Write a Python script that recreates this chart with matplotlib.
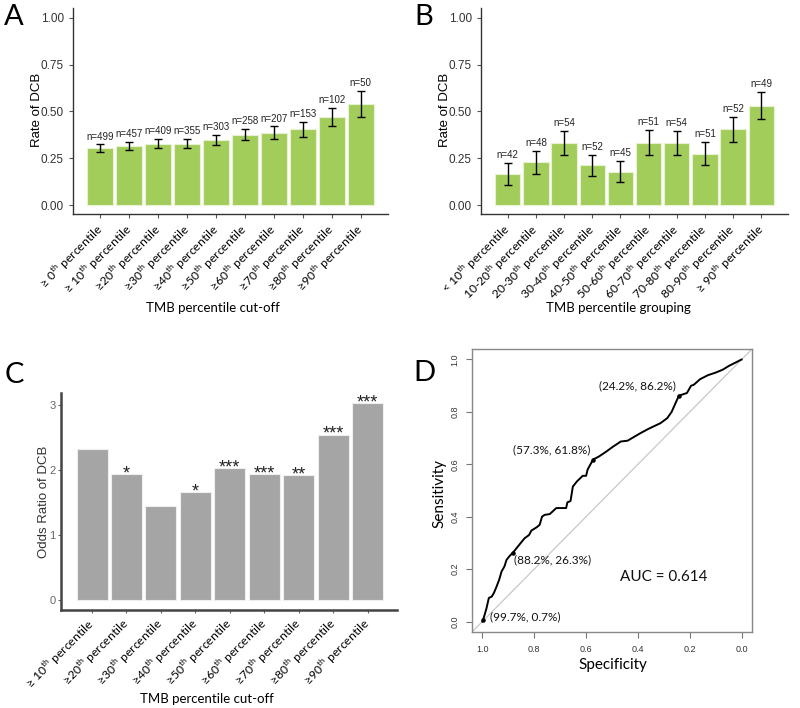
import matplotlib
matplotlib.use("Agg")
import matplotlib.pyplot as plt
import numpy as np

# ---------------- data ----------------
cutoff_labels_A = ["≥ 0", "≥ 10", "≥20", "≥30", "≥40", "≥50", "≥60", "≥70", "≥80", "≥90"]
rate_A = [0.303, 0.317, 0.328, 0.327, 0.347, 0.376, 0.386, 0.405, 0.471, 0.540]
se_A = [0.021, 0.022, 0.023, 0.025, 0.027, 0.030, 0.034, 0.040, 0.049, 0.071]
n_A = [499, 457, 409, 355, 303, 258, 207, 153, 102, 50]

group_labels_B = ["< 10", "10-20", "20-30", "30-40", "40-50", "50-60", "60-70", "70-80", "80-90", "≥ 90"]
rate_B = [0.167, 0.229, 0.333, 0.212, 0.178, 0.333, 0.333, 0.275, 0.404, 0.531]
se_B = [0.058, 0.061, 0.064, 0.057, 0.057, 0.066, 0.064, 0.063, 0.068, 0.071]
n_B = [42, 48, 54, 52, 45, 51, 54, 51, 52, 49]

cutoff_labels_C = ["≥ 10", "≥20", "≥30", "≥40", "≥50", "≥60", "≥70", "≥80", "≥90"]
odds_C = [2.32, 1.94, 1.45, 1.67, 2.03, 1.94, 1.93, 2.55, 3.03]
stars_C = ["", "*", "", "*", "***", "***", "**", "***", "***"]

roc_spec = [1.0, 0.997, 0.99, 0.984, 0.975, 0.964, 0.955, 0.945, 0.935, 0.926, 0.915,
            0.907, 0.895, 0.882, 0.86, 0.837, 0.82, 0.811, 0.79, 0.779, 0.77, 0.76,
            0.74, 0.715, 0.70, 0.677, 0.672, 0.664, 0.66, 0.651, 0.635, 0.613, 0.60,
            0.594, 0.573, 0.55, 0.52, 0.498, 0.466, 0.44, 0.39, 0.36, 0.313, 0.287,
            0.27, 0.242, 0.211, 0.195, 0.185, 0.16, 0.13, 0.10, 0.073, 0.05, 0.03, 0.01, 0.0]
roc_sens = [0.0, 0.007, 0.03, 0.051, 0.09, 0.095, 0.11, 0.134, 0.16, 0.191, 0.21,
            0.235, 0.25, 0.263, 0.29, 0.318, 0.33, 0.347, 0.36, 0.369, 0.40, 0.407,
            0.41, 0.433, 0.433, 0.433, 0.455, 0.458, 0.46, 0.515, 0.535, 0.556, 0.556,
            0.58, 0.618, 0.63, 0.65, 0.666, 0.687, 0.69, 0.719, 0.735, 0.757, 0.776,
            0.80, 0.862, 0.872, 0.90, 0.903, 0.925, 0.94, 0.95, 0.961, 0.975, 0.985, 0.995, 1.0]
thr_spec = [0.242, 0.573, 0.882, 0.997]
thr_sens = [0.862, 0.618, 0.263, 0.007]
auc_value = 0.614

# ---------------- style ----------------
SANS = ["Lato", "DejaVu Sans"]
ARIAL = ["Liberation Sans", "DejaVu Sans"]
GREEN = "#A2CD5A"
plt.rcParams["mathtext.fontset"] = "custom"
plt.rcParams["mathtext.rm"] = "Lato"

W, H = 800, 708
fig = plt.figure(figsize=(W / 100, H / 100), dpi=100)
TICKFS = 8.7


def fx(px):
    return px / W


def fy(py):
    return 1 - py / H


def sup_label(prefix, suffix=" percentile"):
    return prefix + r"$^{\mathrm{th}}$" + suffix


def rot_labels(ax, labels):
    ax.set_xticklabels([sup_label(l) for l in labels], rotation=45, ha="right",
                       va="center", rotation_mode="anchor", family=SANS,
                       fontsize=TICKFS, color="black")


def bar_panel(ax, vals, errs, ns, labels):
    x = np.arange(1, len(vals) + 1)
    ax.bar(x, vals, width=0.9, color=GREEN, edgecolor="#E6F2D2", linewidth=0.8, zorder=2)
    ax.errorbar(x, vals, yerr=errs, fmt="none", ecolor="black", elinewidth=1.0,
                capsize=3, capthick=1.0, zorder=3)
    for xi, v, e, n in zip(x, vals, errs, ns):
        ax.annotate(f"n={n}", (xi, v + e), xytext=(0, 2), textcoords="offset points",
                    ha="center", va="bottom", fontsize=7, family=ARIAL, color="#222222")
    ax.set_xlim(0.05, len(vals) + 0.95)
    ax.set_ylim(-0.05, 1.05)
    ax.set_yticks([0, 0.25, 0.5, 0.75, 1.0])
    ax.set_yticklabels(["0.00", "0.25", "0.50", "0.75", "1.00"], family=ARIAL, fontsize=8.5,
                       color="#333333")
    ax.set_xticks(x)
    rot_labels(ax, labels)
    ax.tick_params(axis="both", length=3, color="#555555", width=0.8)
    ax.tick_params(axis="x", pad=6)
    for s in ["top", "right"]:
        ax.spines[s].set_visible(False)
    for s in ["left", "bottom"]:
        ax.spines[s].set_color("#333333")
        ax.spines[s].set_linewidth(1.0)


# Panel A
axA = fig.add_axes([fx(73), fy(214.4), fx(388) - fx(73), fy(8.3) - fy(214.4)])
bar_panel(axA, rate_A, se_A, n_A, cutoff_labels_A)
fig.text(fx(213), fy(308), "TMB percentile cut-off", family=SANS, fontsize=9.5,
         ha="center", va="center")
fig.text(fx(37), fy(110), "Rate of DCB", family=ARIAL, fontsize=9.5, rotation=90,
         ha="center", va="center")

# Panel B
axB = fig.add_axes([fx(481), fy(214.4), fx(788) - fx(481), fy(8.3) - fy(214.4)])
bar_panel(axB, rate_B, se_B, n_B, group_labels_B)
fig.text(fx(618), fy(308), "TMB percentile grouping", family=SANS, fontsize=9.5,
         ha="center", va="center")
fig.text(fx(445), fy(110), "Rate of DCB", family=ARIAL, fontsize=9.5, rotation=90,
         ha="center", va="center")

# Panel C
axC = fig.add_axes([fx(61), fy(610), fx(397) - fx(61), fy(393) - fy(610)])
xc = np.arange(1, len(odds_C) + 1)
axC.bar(xc, odds_C, width=0.9, color="#A5A5A5", edgecolor="#EEEEEE", linewidth=0.8, zorder=2)
for xi, v, s in zip(xc, odds_C, stars_C):
    if s:
        axC.annotate(s, (xi, v), xytext=(0, -6), textcoords="offset points", ha="center",
                     va="bottom", fontsize=13, family=ARIAL, color="#222222")
axC.set_xlim(0.1, len(odds_C) + 0.85)
axC.set_ylim(-0.152, 3.19)
axC.set_yticks([0, 1, 2, 3])
axC.set_yticklabels(["0", "1", "2", "3"], family=ARIAL, fontsize=8, color="#666666")
axC.set_xticks(xc)
rot_labels(axC, cutoff_labels_C)
axC.tick_params(axis="both", length=2.5, color="#666666", width=0.8)
axC.tick_params(axis="y", pad=1.5)
axC.tick_params(axis="x", pad=6)
for s in ["top", "right"]:
    axC.spines[s].set_visible(False)
for s in ["left", "bottom"]:
    axC.spines[s].set_color("#444444")
    axC.spines[s].set_linewidth(1.8)
fig.text(fx(207), fy(699), "TMB percentile cut-off", family=SANS, fontsize=9.5,
         ha="center", va="center")
fig.text(fx(44), fy(502), "Odds Ratio of DCB", family=ARIAL, fontsize=9.5, rotation=90,
         ha="center", va="center", color="#333333")

# Panel D
axD = fig.add_axes([fx(472), fy(632), fx(752) - fx(472), fy(349) - fy(632)])
axD.axline((1.0, 0.0), (0.0, 1.0), color="#C8C8C8", lw=0.9, zorder=1)
axD.plot(roc_spec, roc_sens, color="black", lw=1.4, zorder=2)
axD.scatter(thr_spec, thr_sens, s=5, color="black", zorder=3)
thr_text = [f"({s*100:.1f}%, {t*100:.1f}%)" for s, t in zip(thr_spec, thr_sens)]
offsets = [(-2, 3, "right", "bottom"), (-2, 3, "right", "bottom"),
           (1, -1, "left", "top"), (5, 2, "left", "center")]
for (sx, sy), txt, (dx, dy, ha, va) in zip(zip(thr_spec, thr_sens), thr_text, offsets):
    axD.annotate(txt, (sx, sy), xytext=(dx, dy), textcoords="offset points", ha=ha, va=va,
                 fontsize=8.5, family=SANS, color="#111111")
axD.text(0.3, 0.17, f"AUC = {auc_value}", ha="center", va="center", fontsize=11,
         family=SANS, color="#111111")
axD.set_xlim(1.04, -0.04)
axD.set_ylim(-0.04, 1.04)
axD.set_xticks([1.0, 0.8, 0.6, 0.4, 0.2, 0.0])
axD.set_xticklabels(["1.0", "0.8", "0.6", "0.4", "0.2", "0.0"], family=ARIAL, fontsize=6.5,
                    color="#333333")
axD.set_yticks([0.0, 0.2, 0.4, 0.6, 0.8, 1.0])
axD.set_yticklabels(["0.0", "0.2", "0.4", "0.6", "0.8", "1.0"], family=ARIAL, fontsize=6.5,
                    color="#333333", rotation=90, va="center")
axD.tick_params(axis="both", length=4, color="#777777", width=0.8, pad=5)
for s in axD.spines.values():
    s.set_color("#888888")
    s.set_linewidth(1.0)
fig.text(fx(613), fy(665), "Specificity", family=SANS, fontsize=11, ha="center", va="center")
fig.text(fx(439), fy(493), "Sensitivity", family=SANS, fontsize=11, rotation=90,
         ha="center", va="center")

# Panel letters
for letter, (px, py) in zip("ABCD", [(14, 17), (424, 17), (14, 375), (424, 373)]):
    fig.text(fx(px), fy(py), letter, fontsize=21, family=SANS, ha="center",
             va="center", color="black")

fig.savefig("out.png", dpi=100)
